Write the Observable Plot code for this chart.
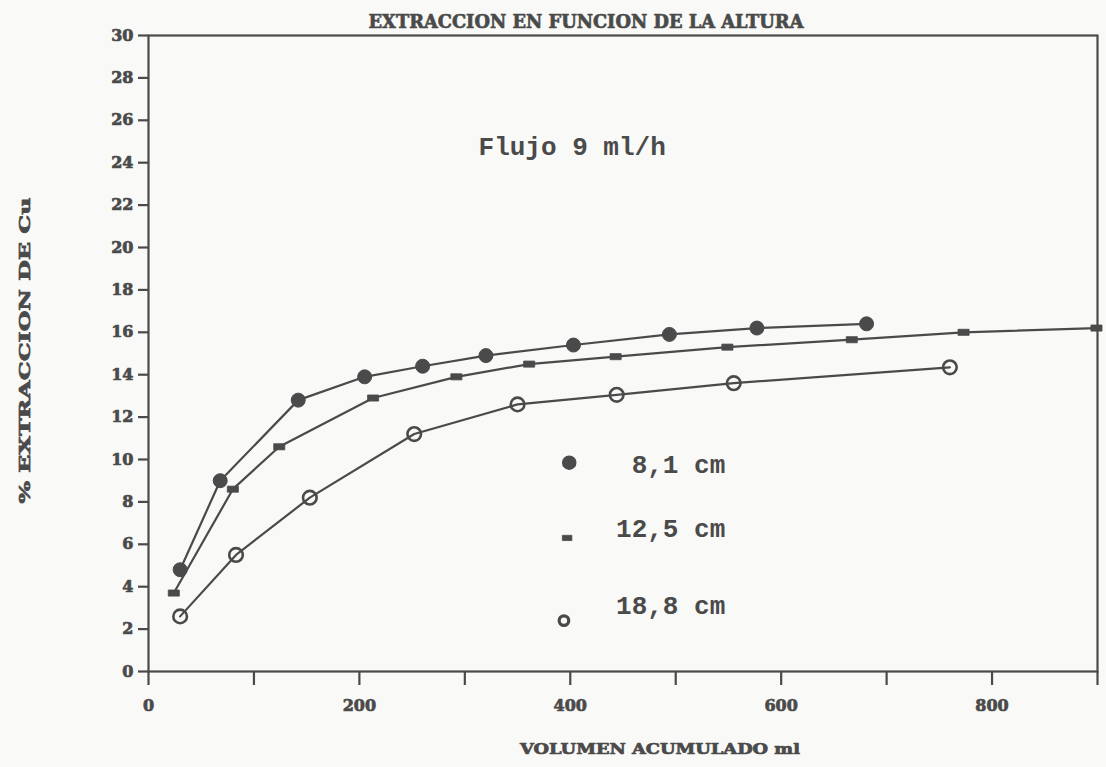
<!DOCTYPE html>
<html>
<head>
<meta charset="utf-8">
<script src="https://cdn.jsdelivr.net/npm/d3@7"></script>
<script src="https://cdn.jsdelivr.net/npm/@observablehq/plot@0.6"></script>
<style>
  html, body { margin: 0; padding: 0; background: #f9f9f7; }
  #chart svg { display: block; }
</style>
</head>
<body>
<div id="chart"></div>
<script>
// Copper extraction (%) vs. accumulated volume (ml), three bed heights, flow 9 ml/h
const vol81  = [30, 68, 142, 205, 260, 320, 403, 494, 577, 681];
const ext81  = [4.8, 9.0, 12.8, 13.9, 14.4, 14.9, 15.4, 15.9, 16.2, 16.4];
const vol125 = [24, 80, 124, 213, 292, 361, 443, 549, 667, 773, 899];
const ext125 = [3.7, 8.6, 10.6, 12.9, 13.9, 14.5, 14.85, 15.3, 15.65, 16.0, 16.2];
const vol188 = [30, 83, 153, 252, 350, 444, 555, 760];
const ext188 = [2.6, 5.5, 8.2, 11.2, 12.6, 13.05, 13.6, 14.35];

const seriesLabels = ["8,1 cm", "12,5 cm", "18,8 cm"];
const xTicks = [0, 100, 200, 300, 400, 500, 600, 700, 800, 900];
const xTickLabels = ["0", "", "200", "", "400", "", "600", "", "800", ""];
const yTicks = [0, 2, 4, 6, 8, 10, 12, 14, 16, 18, 20, 22, 24, 26, 28, 30];

const titleText = "EXTRACCION EN FUNCION DE LA ALTURA";
const xLabelText = "VOLUMEN ACUMULADO ml";
const yLabelText = "% EXTRACCION DE Cu";
const noteText = "Flujo 9 ml/h";

const ink = "#4a4a4a";
const paper = "#f9f9f7";

const toRows = (xs, ys) => xs.map((v, i) => ({v, e: ys[i]}));
const s81 = toRows(vol81, ext81);
const s125 = toRows(vol125, ext125);
const s188 = toRows(vol188, ext188);

// flat bar-shaped marker for the 12,5 cm series
const barSymbol = {
  draw(context, size) {
    const w = Math.sqrt(size) * 1.25, h = w * 0.55;
    context.rect(-w / 2, -h / 2, w, h);
  }
};

// legend entries, placed in data units inside the frame
const legend = [
  {label: seriesLabels[0], sx: 399, sy: 9.85, tx: 547, ty: 9.35},
  {label: seriesLabels[1], sx: 397, sy: 6.3, tx: 547, ty: 6.33},
  {label: seriesLabels[2], sx: 394, sy: 2.4, tx: 547, ty: 2.7}
];

const mono = "'Liberation Mono', 'DejaVu Sans Mono', monospace";
const heavy = "'DejaVu Serif', 'Liberation Serif', serif";

const chart = Plot.plot({
  width: 1106,
  height: 767,
  marginLeft: 148,
  marginRight: 9,
  marginTop: 35,
  marginBottom: 96,
  style: {background: paper, color: ink, fontFamily: heavy, fontWeight: "bold", fontSize: "16px"},
  x: {domain: [0, 900]},
  y: {domain: [0, 30]},
  marks: [
    Plot.frame({stroke: ink, strokeWidth: 2.2}),
    Plot.axisX({
      ticks: xTicks, tickSize: 14, tickPadding: 14, strokeWidth: 2.2,
      tickFormat: (d) => xTickLabels[xTicks.indexOf(d)],
      label: null, fontFamily: heavy, fontWeight: 900, fontSize: 16
    }),
    Plot.axisY({
      ticks: yTicks, tickSize: 10, tickPadding: 5, strokeWidth: 2.2,
      label: null, fontFamily: heavy, fontWeight: 900, fontSize: 16
    }),
    Plot.line(s81, {x: "v", y: "e", stroke: ink, strokeWidth: 2.2}),
    Plot.line(s125, {x: "v", y: "e", stroke: ink, strokeWidth: 2.2}),
    Plot.line(s188, {x: "v", y: "e", stroke: ink, strokeWidth: 2.2}),
    Plot.dot(s81, {x: "v", y: "e", r: 7, fill: ink, stroke: ink, strokeWidth: 1}),
    Plot.dot(s125, {x: "v", y: "e", r: 5, symbol: barSymbol, fill: ink, stroke: ink, strokeWidth: 0.8}),
    Plot.dot(s188, {x: "v", y: "e", r: 6.8, fill: "none", stroke: ink, strokeWidth: 2.6}),
    // legend
    Plot.dot([legend[0]], {x: "sx", y: "sy", r: 6.5, fill: ink, stroke: ink}),
    Plot.dot([legend[1]], {x: "sx", y: "sy", r: 4.3, symbol: barSymbol, fill: ink, stroke: ink, strokeWidth: 0.8}),
    Plot.dot([legend[2]], {x: "sx", y: "sy", r: 4.8, fill: "none", stroke: ink, strokeWidth: 3.2}),
    Plot.text(legend, {
      x: "tx", y: "ty", text: "label", textAnchor: "end", lineAnchor: "bottom",
      fontFamily: mono, fontSize: 26, fontWeight: "bold", fill: ink
    }),
    Plot.text([noteText], {
      x: [313], y: [24.35], text: d => d, textAnchor: "start", lineAnchor: "bottom",
      fontFamily: mono, fontSize: 26, fontWeight: "bold", fill: ink
    }),
    // title and axis labels
    Plot.text([titleText], {
      frameAnchor: "top", dx: -37, dy: -14, text: d => d, lineAnchor: "middle",
      fontFamily: heavy, fontWeight: 900, fontSize: 19, fill: ink
    }),
    Plot.text([xLabelText], {
      frameAnchor: "bottom", dx: 37, dy: 78, text: d => d, lineAnchor: "middle",
      fontFamily: heavy, fontWeight: 900, fontSize: 15, fill: ink
    }),
    Plot.text([yLabelText], {
      frameAnchor: "left", dx: -123, dy: 150, rotate: -90, text: d => d,
      textAnchor: "start", lineAnchor: "middle",
      fontFamily: heavy, fontWeight: 900, fontSize: 15, fill: ink
    })
  ]
});

// fixed text widths for the printed headings
const widths = new Map([[titleText, 435], [xLabelText, 280], [yLabelText, 306]]);
chart.querySelectorAll("text").forEach(t => {
  const w = widths.get(t.textContent);
  if (w) {
    t.setAttribute("textLength", w);
    t.setAttribute("lengthAdjust", "spacingAndGlyphs");
  }
});

// heavier, printer-style strokes on the serif headings and tick labels
const heavyText = [
  ...chart.querySelectorAll('[aria-label="x-axis tick label"] text'),
  ...chart.querySelectorAll('[aria-label="y-axis tick label"] text'),
  ...[...chart.querySelectorAll("text")].filter(t => widths.has(t.textContent))
];
heavyText.forEach(t => {
  t.style.stroke = ink;
  t.style.strokeWidth = "0.7px";
  t.style.strokeLinejoin = "round";
});

document.getElementById("chart").appendChild(chart);
</script>
</body>
</html>
